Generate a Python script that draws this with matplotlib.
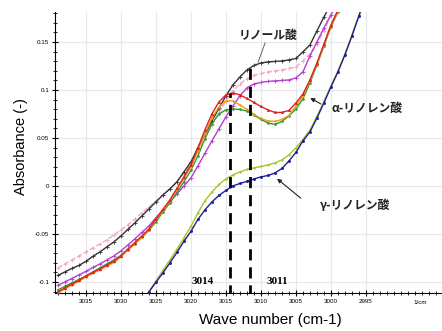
import numpy as np
import matplotlib
matplotlib.use("Agg")
import matplotlib.pyplot as plt
from matplotlib.ticker import MultipleLocator, FixedLocator, FixedFormatter

# ------------------------------------------------------------------------------
# data (wavenumber grid, 1 cm-1 step)
# ------------------------------------------------------------------------------
nan = np.nan
wavenumber = [3039, 3038, 3037, 3036, 3035, 3034, 3033, 3032, 3031, 3030,
              3029, 3028, 3027, 3026, 3025, 3024, 3023, 3022, 3021, 3020,
              3019, 3018, 3017, 3016, 3015, 3014, 3013, 3012, 3011, 3010,
              3009, 3008, 3007, 3006, 3005, 3004, 3003, 3002, 3001, 3000,
              2999, 2998, 2997, 2996, 2995]

black = [-0.0932, -0.0896, -0.0859, -0.0828, -0.0786, -0.0734, -0.0688, -0.0635, -0.0583, -0.0521,
         -0.0453, -0.0385, -0.0313, -0.0240, -0.0167, -0.0094, -0.0031, 0.0042, 0.0146, 0.0250,
         0.0396, 0.0536, 0.0677, 0.0807, 0.0938, 0.1052, 0.1135, 0.1208, 0.1255, 0.1281,
         0.1292, 0.1297, 0.1302, 0.1313, 0.1328, 0.1396, 0.1469, 0.1615, 0.1760, 0.1896,
         nan, nan, nan, nan, nan]

pink = [-0.0854, -0.0813, -0.0771, -0.0729, -0.0688, -0.0646, -0.0604, -0.0563, -0.0510, -0.0458,
        -0.0406, -0.0344, -0.0281, -0.0219, -0.0156, -0.0094, -0.0031, 0.0042, 0.0125, 0.0229,
        0.0365, 0.0500, 0.0635, 0.0760, 0.0885, 0.0990, 0.1063, 0.1115, 0.1151, 0.1172,
        0.1188, 0.1198, 0.1208, 0.1224, 0.1240, 0.1302, 0.1375, 0.1479, 0.1615, 0.1781,
        0.1940, nan, nan, nan, nan]

magenta = [-0.1036, -0.1000, -0.0964, -0.0927, -0.0891, -0.0849, -0.0813, -0.0771, -0.0729, -0.0677,
           -0.0615, -0.0552, -0.0484, -0.0417, -0.0333, -0.0250, -0.0167, -0.0083, 0.0000, 0.0083,
           0.0208, 0.0339, 0.0469, 0.0594, 0.0719, 0.0833, 0.0938, 0.1021, 0.1063, 0.1078,
           0.1089, 0.1094, 0.1099, 0.1104, 0.1125, 0.1188, 0.1354, 0.1500, 0.1646, 0.1781,
           0.1917, nan, nan, nan, nan]

red = [-0.1104, -0.1063, -0.1021, -0.0984, -0.0938, -0.0901, -0.0865, -0.0823, -0.0786, -0.0729,
       -0.0656, -0.0589, -0.0521, -0.0448, -0.0344, -0.0245, -0.0146, -0.0026, 0.0094, 0.0219,
       0.0396, 0.0583, 0.0750, 0.0875, 0.0948, 0.0969, 0.0948, 0.0911, 0.0870, 0.0828,
       0.0792, 0.0766, 0.0766, 0.0786, 0.0865, 0.0958, 0.1104, 0.1281, 0.1479, 0.1677,
       0.1833, 0.2000, nan, nan, nan]

orange = [-0.1115, -0.1073, -0.1031, -0.0995, -0.0948, -0.0911, -0.0875, -0.0833, -0.0797, -0.0740,
          -0.0667, -0.0599, -0.0531, -0.0458, -0.0354, -0.0255, -0.0156, -0.0036, 0.0078, 0.0198,
          0.0365, 0.0542, 0.0708, 0.0823, 0.0885, 0.0885, 0.0844, 0.0797, 0.0745, 0.0703,
          0.0677, 0.0672, 0.0693, 0.0734, 0.0833, 0.0938, 0.1094, 0.1271, 0.1469, 0.1667,
          0.1823, 0.2000, nan, nan, nan]

green = [-0.1083, -0.1047, -0.1010, -0.0974, -0.0938, -0.0896, -0.0854, -0.0813, -0.0771, -0.0724,
         -0.0667, -0.0604, -0.0536, -0.0464, -0.0375, -0.0271, -0.0177, -0.0068, 0.0042, 0.0161,
         0.0313, 0.0490, 0.0646, 0.0750, 0.0792, 0.0802, 0.0797, 0.0781, 0.0740, 0.0693,
         0.0656, 0.0641, 0.0672, 0.0729, 0.0802, 0.0906, 0.1073, 0.1260, 0.1458, 0.1656,
         0.1813, 0.2000, nan, nan, nan]

lime = [nan, nan, nan, nan, nan, nan, nan, nan, nan, nan,
        nan, nan, -0.1219, -0.1104, -0.0990, -0.0880, -0.0771, -0.0661, -0.0542, -0.0422,
        -0.0281, -0.0156, -0.0063, 0.0016, 0.0073, 0.0115, 0.0146, 0.0172, 0.0188, 0.0203,
        0.0219, 0.0240, 0.0271, 0.0323, 0.0396, 0.0484, 0.0583, 0.0724, 0.0880, 0.1042,
        0.1198, 0.1375, 0.1573, 0.1781, 0.1990]

blue = [nan, nan, nan, nan, nan, nan, nan, nan, nan, nan,
        nan, nan, -0.1219, -0.1104, -0.1005, -0.0906, -0.0802, -0.0693, -0.0578, -0.0474,
        -0.0349, -0.0250, -0.0167, -0.0099, -0.0047, 0.0000, 0.0026, 0.0047, 0.0073, 0.0094,
        0.0109, 0.0135, 0.0182, 0.0260, 0.0349, 0.0469, 0.0563, 0.0708, 0.0865, 0.1031,
        0.1188, 0.1365, 0.1563, 0.1771, 0.1979]

peak_x = [3014.4, 3011.6]
peak_top = [0.097, 0.124]
peak_labels = ["3014", "3011"]

y_ticks = [-0.1, -0.05, 0, 0.05, 0.1, 0.15]
y_ticklabels = ["-0.1", "-0.05", "0", "0.05", "0.1", "0.15"]
x_ticks = [3035, 3030, 3025, 3020, 3015, 3010, 3005, 3000, 2995]
x_ticklabels = ["3035", "3030", "3025", "3020", "3015", "3010", "3005", "3000", "2995"]

# ------------------------------------------------------------------------------
# figure
# ------------------------------------------------------------------------------
plt.rcParams['font.family'] = ['Liberation Sans', 'DejaVu Sans']
jp = ['Noto Sans CJK JP', 'DejaVu Sans']

fig = plt.figure(figsize=(4.42, 3.31), dpi=100)
ax = fig.add_axes([0.124, 0.1148, 0.876, 0.849])

series = [
    (pink,    "#f2a6cc", "--", "+", 2.5),
    (black,   "#333333", "-",  "+", 3.0),
    (magenta, "#b23fd0", "-",  "+", 2.5),
    (green,   "#2e9e2e", "-",  ".", 2.5),
    (orange,  "#f29a1a", "-",  ".", 2.0),
    (red,     "#e02222", "-",  "^", 1.5),
    (lime,    "#a9c425", "-",  ".", 2.0),
    (blue,    "#1f1f9c", "-",  ".", 3.0),
]
for vals, col, ls, mk, ms in series:
    ax.plot(wavenumber, vals, color=col, ls=ls, lw=1.0, marker=mk, ms=ms,
            mew=0.6, zorder=3)

# peak position markers
for xp, yt in zip(peak_x, peak_top):
    ax.plot([xp, xp], [-0.115, yt], color="black", lw=2.0, ls=(0, (4, 2.5)), zorder=4)
ax.text(3018.3, -0.1, peak_labels[0], ha="center", va="center", fontsize=8,
        fontweight="bold", family="Liberation Serif")
ax.text(3007.6, -0.1, peak_labels[1], ha="center", va="center", fontsize=8,
        fontweight="bold", family="Liberation Serif")

# labels for each acid
ax.text(3009.0, 0.157, "リノール酸", ha="center", va="center", fontsize=8.5,
        family=jp, fontweight="bold", color="#222222")
ax.plot([3009.4, 3010.4], [0.149, 0.129], color="#666666", lw=0.7)
ax.text(2994.9, 0.081, "α-リノレン酸", ha="center", va="center", fontsize=8.5,
        family=jp, fontweight="bold", color="#222222")
ax.annotate("", xy=(3003.3, 0.093), xytext=(3001.1, 0.084),
            arrowprops=dict(arrowstyle="-|>", color="#222222", lw=0.8, mutation_scale=6))
ax.text(2996.6, -0.020, "γ-リノレン酸", ha="center", va="center", fontsize=8.5,
        family=jp, fontweight="bold", color="#222222")
ax.annotate("", xy=(3008.0, 0.0094), xytext=(3004.0, -0.0146),
            arrowprops=dict(arrowstyle="-|>", color="#222222", lw=0.8, mutation_scale=6))

# axes styling
ax.set_xlim(3039.43, 2984.14)
ax.set_ylim(-0.1115, 0.1812)
ax.spines['top'].set_visible(False)
ax.spines['right'].set_visible(False)
ax.xaxis.set_major_locator(FixedLocator(x_ticks))
ax.xaxis.set_major_formatter(FixedFormatter(x_ticklabels))
ax.xaxis.set_minor_locator(MultipleLocator(1))
ax.yaxis.set_major_locator(FixedLocator(y_ticks))
ax.yaxis.set_major_formatter(FixedFormatter(y_ticklabels))
ax.yaxis.set_minor_locator(MultipleLocator(0.01))
ax.tick_params(which="major", direction="inout", length=5, width=0.8, labelsize=4.5, pad=1.5)
ax.tick_params(which="minor", direction="inout", length=2.5, width=0.6)
ax.grid(True, which="major", color="#e8e8e8", lw=0.8, zorder=0)
ax.set_axisbelow(True)
ax.text(2987.3, -0.1190, "1/cm", ha="center", va="top", fontsize=4.5)

ax.set_xlabel("Wave number (cm-1)", fontsize=11)
ax.xaxis.set_label_coords(0.556, -0.07)
ax.set_ylabel("Absorbance (-)", fontsize=10.5)
ax.yaxis.set_label_coords(-0.07, 0.52)

fig.savefig("out.png", dpi=100)
